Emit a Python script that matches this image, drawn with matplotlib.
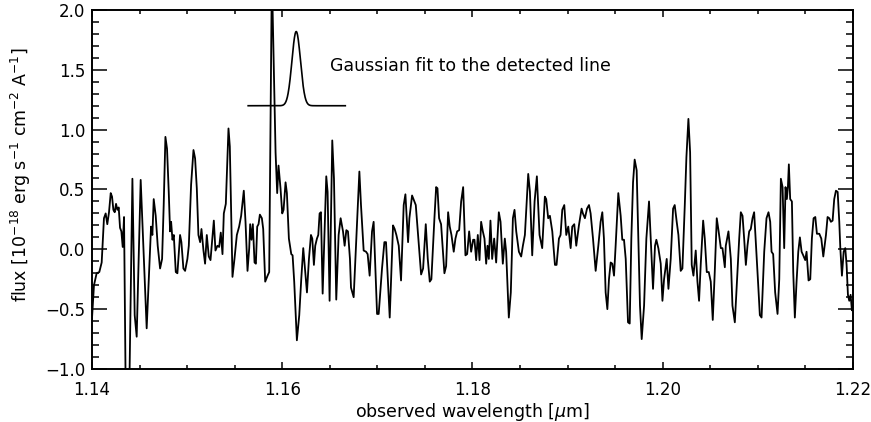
import numpy as np
import matplotlib
matplotlib.use("Agg")
import matplotlib.pyplot as plt
from matplotlib.ticker import MultipleLocator

# observed spectrum, wavelength in micron, flux in 1e-18 erg/s/cm2/A
wave = [
    1.14000, 1.14021, 1.14049, 1.14077, 1.14102, 1.14126, 1.14144, 1.14161, 1.14179, 1.14197,
    1.14211, 1.14225, 1.14239, 1.14253, 1.14267, 1.14281, 1.14295, 1.14309, 1.14323, 1.14337,
    1.14354, 1.14393, 1.14425, 1.14449, 1.14470, 1.14512, 1.14540, 1.14575, 1.14600, 1.14621,
    1.14635, 1.14649, 1.14670, 1.14691, 1.14716, 1.14737, 1.14754, 1.14772, 1.14789, 1.14807,
    1.14821, 1.14832, 1.14846, 1.14860, 1.14881, 1.14898, 1.14926, 1.14940, 1.14961, 1.14979,
    1.15003, 1.15018, 1.15042, 1.15067, 1.15084, 1.15102, 1.15119, 1.15137, 1.15151, 1.15172,
    1.15189, 1.15207, 1.15228, 1.15246, 1.15281, 1.15298, 1.15319, 1.15337, 1.15354, 1.15372,
    1.15386, 1.15407, 1.15435, 1.15449, 1.15463, 1.15477, 1.15498, 1.15523, 1.15547, 1.15568,
    1.15596, 1.15614, 1.15635, 1.15653, 1.15663, 1.15677, 1.15691, 1.15709, 1.15723, 1.15737,
    1.15751, 1.15765, 1.15786, 1.15800, 1.15821, 1.15846, 1.15863, 1.15891, 1.15930, 1.15947,
    1.15961, 1.15982, 1.16000, 1.16014, 1.16035, 1.16049, 1.16070, 1.16095, 1.16109, 1.16126,
    1.16154, 1.16179, 1.16200, 1.16221, 1.16239, 1.16260, 1.16281, 1.16302, 1.16316, 1.16333,
    1.16347, 1.16365, 1.16379, 1.16393, 1.16407, 1.16425, 1.16453, 1.16463, 1.16477, 1.16498,
    1.16526, 1.16544, 1.16568, 1.16593, 1.16614, 1.16639, 1.16656, 1.16674, 1.16691, 1.16712,
    1.16723, 1.16751, 1.16776, 1.16811, 1.16828, 1.16856, 1.16881, 1.16898, 1.16919, 1.16944,
    1.16961, 1.16997, 1.17014, 1.17049, 1.17074, 1.17091, 1.17130, 1.17165, 1.17182, 1.17200,
    1.17225, 1.17249, 1.17277, 1.17295, 1.17323, 1.17337, 1.17365, 1.17389, 1.17404, 1.17439,
    1.17460, 1.17481, 1.17509, 1.17530, 1.17551, 1.17568, 1.17600, 1.17618, 1.17632, 1.17649,
    1.17670, 1.17705, 1.17723, 1.17744, 1.17761, 1.17779, 1.17803, 1.17821, 1.17839, 1.17860,
    1.17881, 1.17902, 1.17926, 1.17944, 1.17965, 1.17986, 1.18007, 1.18021, 1.18039, 1.18056,
    1.18074, 1.18091, 1.18109, 1.18126, 1.18144, 1.18158, 1.18172, 1.18189, 1.18207, 1.18228,
    1.18249, 1.18277, 1.18295, 1.18319, 1.18340, 1.18354, 1.18382, 1.18403, 1.18425, 1.18442,
    1.18460, 1.18488, 1.18512, 1.18530, 1.18551, 1.18586, 1.18604, 1.18628, 1.18653, 1.18677,
    1.18705, 1.18733, 1.18761, 1.18775, 1.18796, 1.18814, 1.18839, 1.18867, 1.18884, 1.18909,
    1.18926, 1.18944, 1.18965, 1.18986, 1.19007, 1.19032, 1.19049, 1.19070, 1.19091, 1.19119,
    1.19147, 1.19161, 1.19182, 1.19204, 1.19225, 1.19242, 1.19267, 1.19295, 1.19323, 1.19347,
    1.19365, 1.19382, 1.19400, 1.19418, 1.19435, 1.19453, 1.19470, 1.19488, 1.19505, 1.19533,
    1.19558, 1.19575, 1.19593, 1.19611, 1.19635, 1.19653, 1.19670, 1.19688, 1.19705, 1.19726,
    1.19744, 1.19761, 1.19779, 1.19804, 1.19828, 1.19856, 1.19874, 1.19898, 1.19919, 1.19933,
    1.19954, 1.19979, 1.19997, 1.20014, 1.20042, 1.20060, 1.20084, 1.20109, 1.20126, 1.20147,
    1.20165, 1.20189, 1.20207, 1.20232, 1.20249, 1.20270, 1.20288, 1.20305, 1.20323, 1.20347,
    1.20365, 1.20382, 1.20400, 1.20425, 1.20442, 1.20463, 1.20484, 1.20505, 1.20526, 1.20547,
    1.20568, 1.20586, 1.20611, 1.20628, 1.20653, 1.20663, 1.20691, 1.20716, 1.20733, 1.20758,
    1.20786, 1.20804, 1.20821, 1.20839, 1.20856, 1.20874, 1.20891, 1.20909, 1.20926, 1.20944,
    1.20961, 1.20979, 1.21004, 1.21021, 1.21039, 1.21067, 1.21091, 1.21112, 1.21130, 1.21144,
    1.21161, 1.21182, 1.21207, 1.21225, 1.21242, 1.21260, 1.21277, 1.21291, 1.21305, 1.21316,
    1.21326, 1.21340, 1.21358, 1.21372, 1.21389, 1.21407, 1.21425, 1.21442, 1.21460, 1.21477,
    1.21498, 1.21512, 1.21533, 1.21551, 1.21568, 1.21586, 1.21604, 1.21621, 1.21646, 1.21667,
    1.21688, 1.21716, 1.21733, 1.21751, 1.21768, 1.21786, 1.21803, 1.21821, 1.21839, 1.21856,
    1.21867, 1.21884, 1.21902, 1.21919, 1.21933, 1.21947, 1.21961, 1.21975, 1.21989, 1.22000,
]
flux = [
    -0.58, -0.30, -0.20, -0.19, -0.11, 0.26, 0.30, 0.21, 0.31, 0.47,
    0.44, 0.33, 0.31, 0.38, 0.33, 0.35, 0.18, 0.15, 0.02, 0.27,
    -1.15, -1.15, 0.59, -0.55, -0.73, 0.58, 0.03, -0.66, -0.19, 0.19,
    0.12, 0.42, 0.28, 0.03, -0.16, -0.08, 0.37, 0.94, 0.84, 0.48,
    0.15, 0.23, 0.08, 0.12, -0.19, -0.20, 0.12, 0.06, -0.16, -0.18,
    -0.08, 0.03, 0.54, 0.83, 0.76, 0.51, 0.12, 0.06, 0.17, -0.01,
    -0.12, 0.12, -0.06, -0.09, 0.24, -0.01, 0.03, 0.02, 0.14, -0.04,
    0.30, 0.38, 1.01, 0.86, 0.31, -0.23, -0.08, 0.12, 0.19, 0.28,
    0.49, 0.23, -0.18, 0.01, 0.21, 0.08, 0.21, -0.11, -0.12, 0.19,
    0.21, 0.29, 0.26, 0.17, -0.27, -0.22, -0.19, 2.30, 0.81, 0.47,
    0.70, 0.51, 0.30, 0.33, 0.56, 0.47, 0.09, -0.04, -0.05, -0.27,
    -0.76, -0.55, -0.25, 0.01, -0.16, -0.36, -0.08, 0.12, 0.09, -0.13,
    0.03, 0.09, 0.12, 0.30, 0.31, -0.37, 0.37, 0.61, 0.48, -0.43,
    0.91, 0.59, -0.42, 0.12, 0.26, 0.15, 0.03, 0.16, 0.15, -0.08,
    -0.32, -0.40, 0.03, 0.65, 0.37, -0.01, -0.02, -0.04, -0.22, 0.15,
    0.23, -0.54, -0.54, -0.16, 0.06, 0.06, -0.57, 0.20, 0.17, 0.12,
    0.03, -0.26, 0.37, 0.46, 0.06, 0.26, 0.45, 0.40, 0.37, 0.01,
    -0.21, -0.16, 0.21, -0.08, -0.27, -0.25, 0.26, 0.52, 0.51, 0.26,
    0.21, -0.20, -0.14, 0.31, 0.19, 0.12, -0.02, 0.09, 0.15, 0.16,
    0.40, 0.52, -0.05, -0.04, 0.15, -0.02, 0.08, 0.08, -0.09, 0.12,
    -0.09, 0.23, 0.15, 0.09, -0.12, 0.03, -0.08, 0.24, -0.08, 0.09,
    -0.11, 0.31, 0.23, -0.12, 0.09, -0.02, -0.57, -0.36, 0.26, 0.33,
    0.15, -0.02, -0.06, 0.03, 0.12, 0.63, 0.48, -0.05, 0.40, 0.61,
    0.12, 0.01, 0.44, 0.42, 0.26, 0.28, 0.15, -0.13, -0.13, 0.09,
    0.12, 0.33, 0.37, 0.12, 0.19, 0.01, 0.19, 0.21, 0.03, 0.20,
    0.34, 0.30, 0.26, 0.34, 0.37, 0.30, 0.09, -0.18, 0.03, 0.23,
    0.31, 0.09, -0.36, -0.50, -0.25, -0.11, -0.12, -0.22, 0.03, 0.47,
    0.28, 0.08, 0.08, -0.08, -0.61, -0.62, 0.09, 0.56, 0.75, 0.66,
    0.09, -0.47, -0.75, -0.47, 0.09, 0.40, 0.09, -0.33, 0.03, 0.08,
    0.01, -0.12, -0.43, -0.25, -0.08, -0.33, -0.08, 0.34, 0.37, 0.23,
    0.12, -0.18, -0.16, 0.37, 0.77, 1.09, 0.81, -0.13, -0.22, -0.01,
    -0.27, -0.43, -0.12, 0.24, 0.09, -0.19, -0.19, -0.27, -0.59, -0.19,
    0.26, 0.16, 0.01, 0.01, -0.15, 0.03, 0.15, -0.08, -0.47, -0.61,
    -0.19, 0.09, 0.31, 0.28, 0.09, -0.13, 0.03, 0.15, 0.17, 0.26,
    0.31, 0.06, -0.30, -0.55, -0.57, -0.02, 0.26, 0.31, 0.23, -0.02,
    -0.04, -0.36, -0.54, -0.25, 0.59, 0.52, 0.01, 0.52, 0.42, 0.52,
    0.71, 0.42, 0.40, -0.19, -0.57, -0.27, -0.02, 0.10, -0.02, -0.05,
    -0.09, -0.02, -0.26, -0.25, 0.09, 0.26, 0.27, 0.13, 0.13, 0.09,
    -0.06, 0.12, 0.27, 0.26, 0.23, 0.24, 0.42, 0.49, 0.48, 0.23,
    0.01, -0.22, -0.02, 0.01, -0.13, -0.38, -0.43, -0.38, -0.51, -0.47,
]

# gaussian fit to the detected line, drawn offset above the spectrum
fit_center = 1.16147
fit_sigma = 0.00045
fit_amp = 0.62
fit_base = 1.20
fit_range = (1.15642, 1.16663)

plt.rcParams["font.family"] = ["DejaVu Sans"]
plt.rcParams["mathtext.fontset"] = "dejavusans"

fig = plt.figure(figsize=(8.71, 4.22), dpi=100)
ax = fig.add_axes([0.1056, 0.1256, 0.8737, 0.8507])

ax.plot(wave, flux, color="black", lw=1.3)

gx = np.linspace(fit_range[0], fit_range[1], 400)
gy = fit_base + fit_amp * np.exp(-0.5 * ((gx - fit_center) / fit_sigma) ** 2)
ax.plot(gx, gy, color="black", lw=1.2)
ax.text(1.16505, 1.53, "Gaussian fit to the detected line", fontsize=12.5,
        va="center", ha="left")

ax.set_xlim(1.14, 1.22)
ax.set_ylim(-1.0, 2.0)
ax.xaxis.set_major_locator(MultipleLocator(0.02))
ax.xaxis.set_minor_locator(MultipleLocator(0.005))
ax.yaxis.set_major_locator(MultipleLocator(0.5))
ax.yaxis.set_minor_locator(MultipleLocator(0.1))
ax.xaxis.set_major_formatter(plt.FuncFormatter(lambda v, p: f"{v:.2f}"))
ax.yaxis.set_major_formatter(plt.FuncFormatter(lambda v, p: f"{v:.1f}".replace("-", "\u2212")))

ax.tick_params(axis="both", which="both", direction="in", top=True, right=True,
               labelsize=12, width=1.1)
ax.tick_params(axis="x", which="major", length=5, pad=9)
ax.tick_params(axis="x", which="minor", length=3)
ax.tick_params(axis="y", which="major", length=11, pad=5)
ax.tick_params(axis="y", which="minor", length=5)
for s in ax.spines.values():
    s.set_linewidth(1.4)

ax.set_xlabel(r"observed wavelength [$\mu$m]", fontsize=12.5, labelpad=1)
ax.set_ylabel(r"flux [10$^{-18}$ erg s$^{-1}$ cm$^{-2}$ A$^{-1}$]", fontsize=12.5)
ax.yaxis.set_label_coords(-0.078, 0.54)

fig.savefig("out.png", dpi=100)
